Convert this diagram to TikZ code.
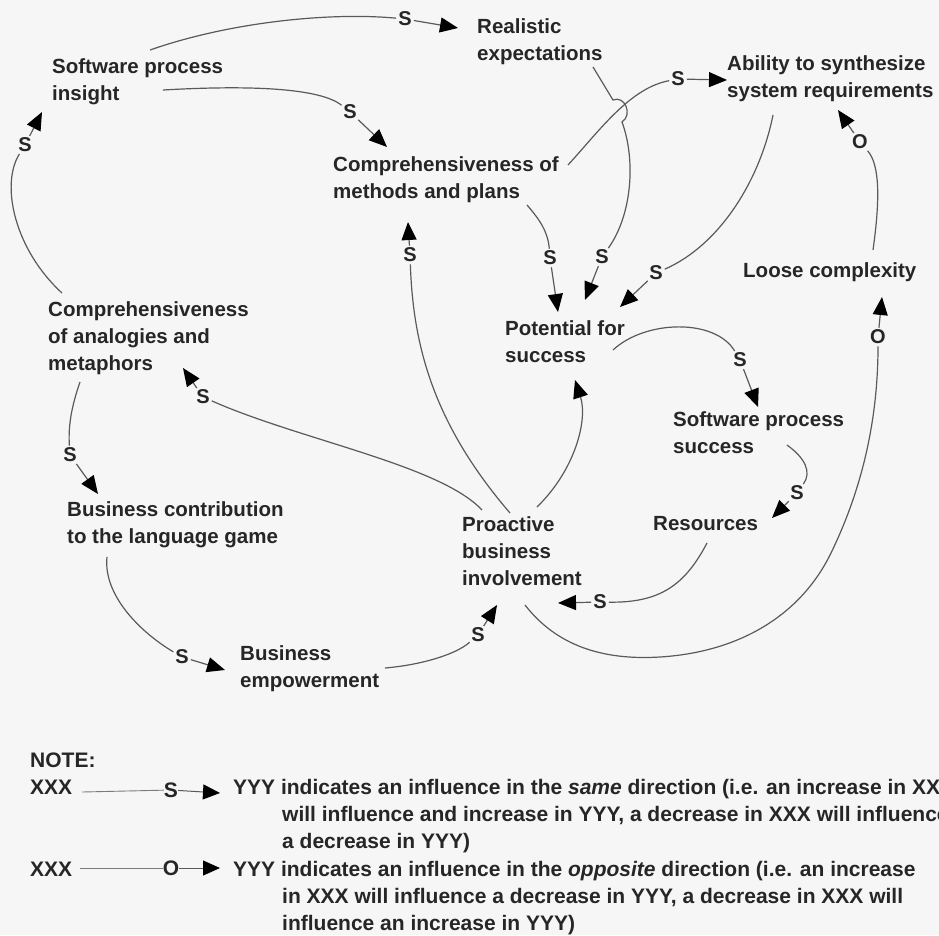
\documentclass[tikz,border=0pt]{standalone}
\usepackage{fontspec}
\usetikzlibrary{arrows.meta}
\newfontfamily\diagfont{Liberation Sans}
\newfontfamily\notefont{Liberation Sans}
\definecolor{ink}{HTML}{262626}
\definecolor{wire}{HTML}{5A5A5A}
\definecolor{paper}{HTML}{F5F6F5}
\begin{document}
\begin{tikzpicture}[x=1pt,y=-1pt,
  % multi-line variables are placed by the baseline of their last line
  var/.style={font=\diagfont\bfseries\fontsize{20.5}{27}\selectfont, text=ink,
    align=left, inner sep=0pt, anchor=base west},
  sgn/.style={font=\diagfont\bfseries\fontsize{20}{24}\selectfont, text=ink, inner sep=0pt},
  link/.style={draw=wire, line width=1.2pt, shorten >=2pt},
  head/.style={draw=wire, line width=1.2pt, shorten <=2pt,
    -{Triangle[length=18pt,width=15pt,color=black]}},
  note/.style={font=\notefont\bfseries\fontsize{21}{27}\selectfont, text=ink,
    inner sep=0pt, anchor=base west},
  nlink/.style={draw=wire!80, line width=0.9pt},
  nhead/.style={draw=wire, line width=1pt, -{Triangle[length=17pt,width=15pt,color=black]}}]

\useasboundingbox (0,0) rectangle (939,935);
\clip (0,0) rectangle (939,935);
\fill[paper] (0,0) rectangle (939,935);

% variables
\node[var] (spi)   at (52,100)  {Software process\\insight};
\node[var] (real)  at (477,60)  {Realistic\\expectations};
\node[var] (comp)  at (333,198) {Comprehensiveness of\\methods and plans};
\node[var] (abil)  at (727,97)  {Ability to synthesize\\system requirements};
\node[var] (loose) at (743,277) {Loose complexity};
\node[var] (pot)   at (505,362) {Potential for\\success};
\node[var] (ana)   at (48,370)  {Comprehensiveness\\of analogies and\\metaphors};
\node[var] (sps)   at (673,453) {Software process\\success};
\node[var] (res)   at (653,530) {Resources};
\node[var] (bcl)   at (67,543)  {Business contribution\\to the language game};
\node[var] (pro)   at (462,585) {Proactive\\business\\involvement};
\node[var] (bemp)  at (240,687) {Business\\empowerment};

% polarity labels
\node[sgn] (s1)  at (405,19)  {S};
\node[sgn] (s2)  at (350,112) {S};
\node[sgn] (s3)  at (25,145)  {S};
\node[sgn] (s4)  at (678,79)  {S};
\node[sgn] (s5)  at (602,257) {S};
\node[sgn] (s6)  at (550,258) {S};
\node[sgn] (s7)  at (656,273) {S};
\node[sgn] (s8)  at (860,142) {O};
\node[sgn] (s9)  at (740,360) {S};
\node[sgn] (s10) at (797,493) {S};
\node[sgn] (s11) at (600,602) {S};
\node[sgn] (s12) at (878,337) {O};
\node[sgn] (s14) at (410,255) {S};
\node[sgn] (s15) at (203,397) {S};
\node[sgn] (s16) at (70,455)  {S};
\node[sgn] (s17) at (182,657) {S};
\node[sgn] (s18) at (478,635) {S};

% ends of the connectors
\coordinate (a1) at (150,50);   \coordinate (t1) at (458,28);
\coordinate (a2) at (163,90);   \coordinate (t2) at (387,147);
\coordinate (a3) at (62,293);   \coordinate (t3) at (42,112);
\coordinate (a4) at (568,165);  \coordinate (t4) at (727,80);
\coordinate (a5) at (593,67);   \coordinate (t5) at (585,300);
\coordinate (a6) at (527,205);  \coordinate (t6) at (558,312);
\coordinate (a7) at (773,115);  \coordinate (t7) at (620,307);
\coordinate (a8) at (873,250);  \coordinate (t8) at (838,110);
\coordinate (a9) at (613,350);  \coordinate (t9) at (758,407);
\coordinate (a10) at (787,445); \coordinate (t10) at (772,518);
\coordinate (a11) at (707,543); \coordinate (t11) at (558,603);
\coordinate (a12) at (525,605); \coordinate (t12) at (882,297);
\coordinate (a13) at (537,507); \coordinate (t13) at (575,380);
\coordinate (a14) at (510,513); \coordinate (t14) at (408,222);
\coordinate (a15) at (482,510); \coordinate (t15) at (183,368);
\coordinate (a16) at (80,382);  \coordinate (t16) at (98,494);
\coordinate (a17) at (107,557); \coordinate (t17) at (225,670);
\coordinate (a18) at (385,668); \coordinate (t18) at (497,605);

% influences
\draw[link] (a1) .. controls (230,22) and (330,12) .. (s1);
\draw[head] (s1) -- (t1);
\draw[link] (a2) .. controls (250,85) and (320,88) .. (s2);
\draw[head] (s2) -- (t2);
\draw[link] (a3) .. controls (15,250) and (0,185) .. (s3);
\draw[head] (s3) -- (t3);
\draw[link] (a4) .. controls (600,130) and (630,88) .. (s4);
\draw[head] (s4) -- (t4);
\draw[link] (a5) -- (613,100) .. controls (625,95) and (633,115) .. (622,122)
  .. controls (636,160) and (632,215) .. (s5);
\draw[head] (s5) -- (t5);
\draw[link] (a6) .. controls (540,220) and (548,232) .. (s6);
\draw[head] (s6) -- (t6);
\draw[link] (a7) .. controls (760,180) and (720,245) .. (s7);
\draw[head] (s7) -- (t7);
\draw[link] (a8) .. controls (880,200) and (880,165) .. (s8);
\draw[head] (s8) -- (t8);
\draw[link] (a9) .. controls (645,320) and (715,318) .. (s9);
\draw[head] (s9) -- (t9);
\draw[link] (a10) .. controls (805,458) and (812,472) .. (s10);
\draw[head] (s10) -- (t10);
\draw[link] (a11) .. controls (685,585) and (660,603) .. (s11);
\draw[head] (s11) -- (t11);
\draw[link] (a12) .. controls (560,650) and (610,660) .. (660,657)
  .. controls (740,652) and (800,615) .. (830,555)
  .. controls (862,490) and (878,420) .. (s12);
\draw[head] (s12) -- (t12);
\draw[head, shorten <=0pt] (a13) .. controls (575,470) and (588,420) .. (t13);
\draw[link] (a14) .. controls (430,420) and (413,340) .. (s14);
\draw[head] (s14) -- (t14);
\draw[link] (a15) .. controls (440,465) and (300,440) .. (s15);
\draw[head] (s15) -- (t15);
\draw[link] (a16) .. controls (72,405) and (68,425) .. (s16);
\draw[head] (s16) -- (t16);
\draw[link] (a17) .. controls (103,595) and (140,632) .. (s17);
\draw[head] (s17) -- (t17);
\draw[link] (a18) .. controls (420,665) and (455,655) .. (s18);
\draw[head] (s18) -- (t18);

% legend
\node[note] (nt) at (30,767) {NOTE:};
\node[note] (x1) at (30,794) {XXX};
\node[sgn, font=\notefont\bfseries\fontsize{21}{27}\selectfont] (ls) at (171,790) {S};
\coordinate (l1a) at (82,792); \coordinate (l1b) at (220,793);
\draw[nlink] (l1a) -- (ls);
\draw[nhead] (ls) -- (l1b);
\node[note] (y1) at (233,794) {YYY indicates an influence in the \textit{same} direction (i.e. an increase in XXX};
\node[note] (y1b) at (282,821) {will influence and increase in YYY, a decrease in XXX will influence};
\node[note] (y1c) at (282,848) {a decrease in YYY)};
\node[note] (x2) at (30,876) {XXX};
\node[sgn, font=\notefont\bfseries\fontsize{21}{27}\selectfont] (lo) at (171,868) {O};
\coordinate (l2a) at (80,868); \coordinate (l2b) at (220,868);
\draw[nlink] (l2a) -- (lo);
\draw[nhead] (lo) -- (l2b);
\node[note] (y2) at (233,876) {YYY indicates an influence in the \textit{opposite} direction (i.e. an increase};
\node[note] (y2b) at (282,903) {in XXX will influence a decrease in YYY, a decrease in XXX will};
\node[note] (y2c) at (282,930) {influence an increase in YYY)};
\end{tikzpicture}
\end{document}
